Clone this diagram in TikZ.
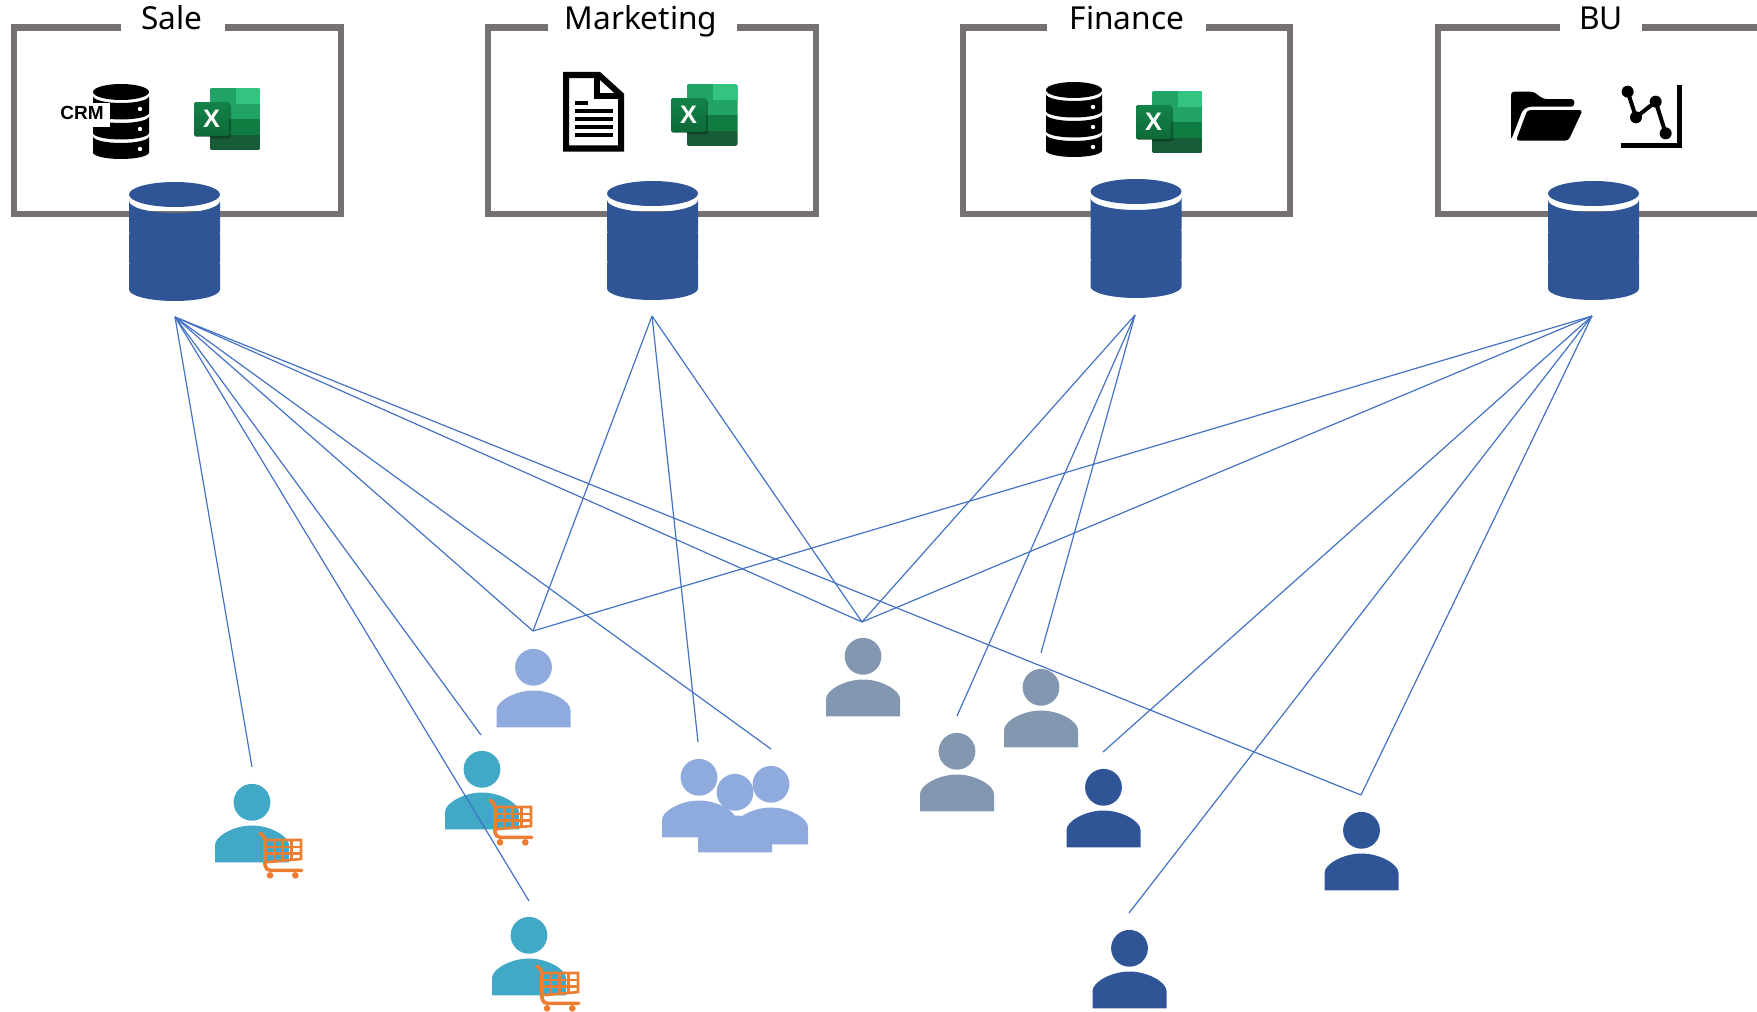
\documentclass[tikz,border=0pt]{standalone}
\usepackage{fontspec}
\setmainfont{Noto Sans}
\newfontfamily\heavyfont{Liberation Sans}
\definecolor{boxgray}{HTML}{767171}
\definecolor{navy}{HTML}{2F5597}
\definecolor{linkblue}{HTML}{4472C4}
\definecolor{teal1}{HTML}{41A8C6}
\definecolor{lightblue}{HTML}{8FAADC}
\definecolor{slate}{HTML}{8497B0}
\definecolor{cartorange}{HTML}{ED7D31}
\definecolor{xa}{HTML}{33C481}
\definecolor{xb}{HTML}{21A366}
\definecolor{xc}{HTML}{107C41}
\definecolor{xd}{HTML}{185C37}
\tikzset{
  framebox/.style={draw=boxgray,line width=0.06cm,miter limit=10},
  titletext/.style={anchor=base,inner sep=0pt,text=black,font=\fontsize{9pt}{10pt}\selectfont},
  link/.style={draw=linkblue,line width=0.012cm},
  cartline/.style={draw=cartorange,line width=0.026cm},
}
% box: left, right, gap left, gap right
\newcommand{\frameit}[4]{%
  \draw[framebox] (#3,27.5) -- (#1,27.5) -- (#1,214) -- (#2,214) -- (#2,27.5) -- (#4,27.5);}
% blue cylinder: centre x, top y
\newcommand{\bluecyl}[2]{%
  \begin{scope}[shift={(#1,#2)}]
    \fill[navy] (-45.5,12.5) .. controls (-45.5,5.6) and (-25,0) .. (0,0) .. controls (25,0) and (45.5,5.6) .. (45.5,12.5)
       .. controls (45.5,19.4) and (25,25) .. (0,25) .. controls (-25,25) and (-45.5,19.4) .. (-45.5,12.5) -- cycle;
    \fill[navy] (-45.5,19) .. controls (-45.5,25.6) and (-25,31) .. (0,31) .. controls (25,31) and (45.5,25.6) .. (45.5,19)
       -- (45.5,107.5) .. controls (45.5,113.8) and (25,119) .. (0,119) .. controls (-25,119) and (-45.5,113.8) .. (-45.5,107.5) -- cycle;
    \fill[white] (-46,50.5) rectangle (-45,51.5) (45,50.5) rectangle (46,51.5)
                 (-46,80.5) rectangle (-45,81.5) (45,80.5) rectangle (46,81.5);
  \end{scope}}
% black database: left x, top y
\newcommand{\blackdb}[2]{%
  \begin{scope}[shift={(#1,#2)}]
    \fill[black] (0,8) .. controls (0,3.6) and (12.5,0) .. (28,0) .. controls (43.5,0) and (56,3.6) .. (56,8)
       .. controls (56,12.4) and (43.5,16) .. (28,16) .. controls (12.5,16) and (0,12.4) .. (0,8) -- cycle;
    \fill[black] (0,12) .. controls (0,16) and (12.5,19) .. (28,19) .. controls (43.5,19) and (56,16) .. (56,12)
       -- (56,29) .. controls (56,32.5) and (43.5,35.5) .. (28,35.5) .. controls (12.5,35.5) and (0,32.5) .. (0,29) -- cycle;
    \fill[black] (0,32.5) .. controls (0,36) and (12.5,39) .. (28,39) .. controls (43.5,39) and (56,36) .. (56,32.5)
       -- (56,49) .. controls (56,52.5) and (43.5,55.5) .. (28,55.5) .. controls (12.5,55.5) and (0,52.5) .. (0,49) -- cycle;
    \fill[black] (0,52.5) .. controls (0,56) and (12.5,59) .. (28,59) .. controls (43.5,59) and (56,56) .. (56,52.5)
       -- (56,68.5) .. controls (56,72) and (43.5,75) .. (28,75) .. controls (12.5,75) and (0,72) .. (0,68.5) -- cycle;
    \fill[white] (47,25) circle (2.2) (47,45) circle (2.2) (47,65) circle (2.2);
  \end{scope}}
% excel icon: left x of front tile, top y of sheet; #3 node name
\newcommand{\excelicon}[3]{%
  \begin{scope}[shift={(#1,#2)}]
    \begin{scope}
      \clip[rounded corners=0.5pt] (15.5,0) rectangle (66.5,62);
      \fill[xb] (15.5,0) rectangle (66.5,31);
      \fill[xa] (41.7,0) rectangle (66.5,16);
      \fill[xc] (15.5,31) rectangle (66.5,46.5);
      \fill[xd] (15.5,46.5) rectangle (66.5,62);
    \end{scope}
    \fill[black,opacity=0.25,rounded corners=0.5pt] (15.5,16) rectangle (37,50.5);
    \fill[top color=xc!80!xb,bottom color=xc!85!black,rounded corners=0.5pt] (0,14) rectangle (35,48.3);
    \node[text=white,inner sep=0pt,font=\heavyfont\bfseries\fontsize{7.2pt}{8pt}\selectfont] (#3) at (17.5,31) {X};
  \end{scope}}
% person: head centre x, y, colour
\newcommand{\person}[3]{%
  \begin{scope}[shift={(#1,#2)}]
    \fill[#3] (0,-0.7) circle (18.4);
    \fill[#3] (-37,59.3) -- (-37,42) .. controls (-37,33) and (-18,22.5) .. (0,22.5) .. controls (18,22.5) and (37,33) .. (37,42) -- (37,59.3) -- cycle;
  \end{scope}}
% cart placed relative to the head of its person
\newcommand{\cart}[2]{%
  \begin{scope}[shift={(#1,#2)},scale=1/3,shift={(-187,-218)}]
    \draw[cartorange,line width=0.036cm,line cap=round,line join=round,rounded corners=1.5pt] (215,311) -- (226,316) -- (226,420) -- (336,420);
    \draw[cartline,line join=miter] (226,329) -- (334,329) -- (334,386) -- (226,396);
    \draw[cartline] (226,350) -- (334,350) (226,370) -- (334,370);
    \draw[cartline] (253,329) -- (253,394) (279,329) -- (279,392) (305,329) -- (305,389);
    \fill[cartorange] (241,435) circle (10) (317,435) circle (10);
  \end{scope}}
\begin{document}
\begin{tikzpicture}[x=0.01cm,y=-0.01cm]
\useasboundingbox (0,0) rectangle (1757,1012);
% department frames
\frameit{14}{341}{121}{225}
\frameit{488}{816}{548}{737}
\frameit{963}{1290}{1047}{1206}
\draw[framebox] (1560,27.5) -- (1438,27.5) -- (1438,214) -- (1757,214);
\draw[framebox] (1642,27.5) -- (1757,27.5);
\node[titletext] (tsale) at (172,30) {Sale};
\node[titletext] (tmkt) at (641,30) {Marketing};
\node[titletext] (tfin) at (1127,30) {Finance};
\node[titletext] (tbu) at (1601,30) {BU};
% source icons: Sale
\blackdb{93}{84}
\fill[white] (60,103) rectangle (110,127);
\node[inner sep=0pt,font=\heavyfont\bfseries\fontsize{5.4pt}{6pt}\selectfont] (crm) at (82,112.5) {CRM};
\excelicon{194}{88}{xsale}
% Marketing
\begin{scope}[shift={(563,72)}]
  \draw[black,line width=0.06cm,miter limit=10] (3,3) -- (36,3) -- (58,23) -- (58,76.5) -- (3,76.5) -- cycle;
  \draw[black,line width=0.06cm] (34,1) -- (34,24) -- (60,24);
  \fill[black] (11.7,29.3) rectangle (25,32.7);
  \fill[black] (11.7,37) rectangle (49.7,41);
  \fill[black] (11.7,45) rectangle (49.7,49);
  \fill[black] (11.7,53) rectangle (49.7,57);
  \fill[black] (11.7,61) rectangle (49.7,64.7);
\end{scope}
\excelicon{671}{84}{xmkt}
% Finance
\blackdb{1046}{82}
\excelicon{1136}{91}{xfin}
% BU
\begin{scope}[shift={(1500,80)},scale=1/3]
  \fill[black,rounded corners=0.9pt] (33,180) -- (33,35) -- (100,35) -- (130,57) -- (223,57) -- (223,80) -- (85,80) -- (68,90) -- cycle;
  \fill[black,rounded corners=0.9pt] (48,182) -- (82,90) -- (248,90) -- (205,182) -- cycle;
  \fill[black] (530,15) rectangle (545,205);
  \fill[black] (362,190) rectangle (545,205);
  \draw[black,line width=0.04cm] (383,35) -- (408,112) -- (467,65) -- (497,160);
  \fill[black] (383,35) circle (18) (408,112) circle (18) (467,65) circle (18) (497,160) circle (18);
\end{scope}
% warehouse cylinders
\bluecyl{174.5}{182}
\bluecyl{652.5}{181}
\bluecyl{1136}{179}
\bluecyl{1593.5}{181}
% people
\person{252}{803}{teal1} \cart{252}{803}
\person{482}{770}{teal1} \cart{482}{770}
\person{529}{936}{teal1} \cart{529}{936}
\person{533.5}{668}{lightblue}
\person{699}{778}{lightblue}
\person{771}{785}{lightblue}
\person{735}{793}{lightblue}
\person{863}{657}{slate}
\person{957}{752}{slate}
\person{1041}{688}{slate}
\person{1103.5}{788}{navy}
\person{1361.5}{831}{navy}
\person{1129.5}{949}{navy}
% connector ends
\coordinate (asale) at (175,317);
\coordinate (amkt) at (652,316);
\coordinate (afin) at (1135,315);
\coordinate (abu) at (1592,316);
\coordinate (pa) at (252,767);
\coordinate (pb) at (481,735);
\coordinate (pc) at (529,901);
\coordinate (pd) at (533,631);
\coordinate (pe) at (698,742);
\coordinate (pf) at (771,749);
\coordinate (pg) at (862,622);
\coordinate (ph) at (957,716);
\coordinate (pi) at (1041,653);
\coordinate (pj) at (1103,752);
\coordinate (pk) at (1361,795);
\coordinate (pl) at (1129,913);
% connectors
\draw[link] (asale) -- (pa);
\draw[link] (asale) -- (pb);
\draw[link] (asale) -- (pc);
\draw[link] (asale) -- (pd);
\draw[link] (asale) -- (pf);
\draw[link] (asale) -- (pg);
\draw[link] (asale) -- (pk);
\draw[link] (amkt) -- (pd);
\draw[link] (amkt) -- (pe);
\draw[link] (amkt) -- (pg);
\draw[link] (afin) -- (pg);
\draw[link] (afin) -- (ph);
\draw[link] (afin) -- (pi);
\draw[link] (abu) -- (pd);
\draw[link] (abu) -- (pg);
\draw[link] (abu) -- (pj);
\draw[link] (abu) -- (pl);
\draw[link] (abu) -- (pk);
\end{tikzpicture}
\end{document}
